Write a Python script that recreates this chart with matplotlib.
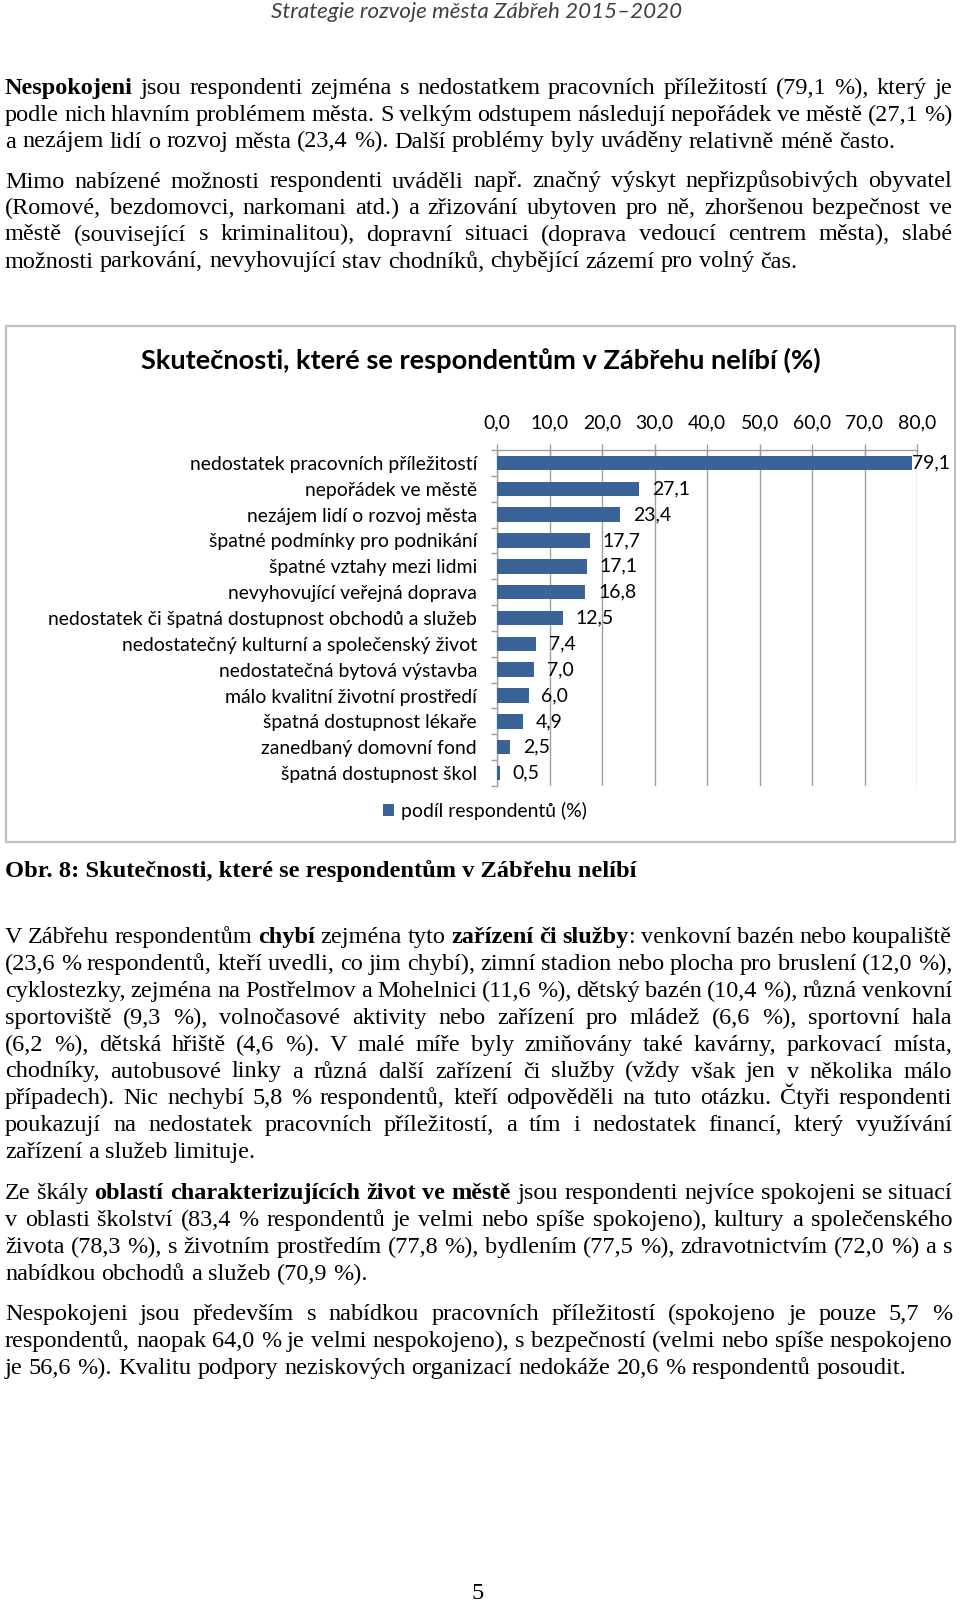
import matplotlib
matplotlib.use("Agg")
import matplotlib.pyplot as plt
from matplotlib.patches import Rectangle, Patch

# ---------------- data ----------------
categories = [
    "nedostatek pracovních příležitostí",
    "nepořádek ve městě",
    "nezájem lidí o rozvoj města",
    "špatné podmínky pro podnikání",
    "špatné vztahy mezi lidmi",
    "nevyhovující veřejná doprava",
    "nedostatek či špatná dostupnost obchodů a služeb",
    "nedostatečný kulturní a společenský život",
    "nedostatečná bytová výstavba",
    "málo kvalitní životní prostředí",
    "špatná dostupnost lékaře",
    "zanedbaný domovní fond",
    "špatná dostupnost škol",
]
values = [79.1, 27.1, 23.4, 17.7, 17.1, 16.8, 12.5, 7.4, 7.0, 6.0, 4.9, 2.5, 0.5]
x_ticks = [0, 10, 20, 30, 40, 50, 60, 70, 80]
x_tick_labels = ["0,0", "10,0", "20,0", "30,0", "40,0", "50,0", "60,0", "70,0", "80,0"]
series_label = "podíl respondentů (%)"
chart_title = "Skutečnosti, které se respondentům v Zábřehu nelíbí (%)"
caption = "Obr. 8: Skutečnosti, které se respondentům v Zábřehu nelíbí"
header = "Strategie rozvoje města Zábřeh 2015–2020"
page_number = "5"

para1 = [
    "**Nespokojeni** jsou respondenti zejména s nedostatkem pracovních příležitostí (79,1 %), který je",
    "podle nich hlavním problémem města. S velkým odstupem následují nepořádek ve městě (27,1 %)",
    "a nezájem lidí o rozvoj města (23,4 %). Další problémy byly uváděny relativně méně často.",
]
para2 = [
    "Mimo nabízené možnosti respondenti uváděli např. značný výskyt nepřizpůsobivých obyvatel",
    "(Romové, bezdomovci, narkomani atd.) a zřizování ubytoven pro ně, zhoršenou bezpečnost ve",
    "městě (související s kriminalitou), dopravní situaci (doprava vedoucí centrem města), slabé",
    "možnosti parkování, nevyhovující stav chodníků, chybějící zázemí pro volný čas.",
]
para3 = [
    "V Zábřehu respondentům **chybí** zejména tyto **zařízení či služby**: venkovní bazén nebo koupaliště",
    "(23,6 % respondentů, kteří uvedli, co jim chybí), zimní stadion nebo plocha pro bruslení (12,0 %),",
    "cyklostezky, zejména na Postřelmov a Mohelnici (11,6 %), dětský bazén (10,4 %), různá venkovní",
    "sportoviště (9,3 %), volnočasové aktivity nebo zařízení pro mládež (6,6 %), sportovní hala",
    "(6,2 %), dětská hřiště (4,6 %). V malé míře byly zmiňovány také kavárny, parkovací místa,",
    "chodníky, autobusové linky a různá další zařízení či služby (vždy však jen v několika málo",
    "případech). Nic nechybí 5,8 % respondentů, kteří odpověděli na tuto otázku. Čtyři respondenti",
    "poukazují na nedostatek pracovních příležitostí, a tím i nedostatek financí, který využívání",
    "zařízení a služeb limituje.",
]
para4 = [
    "Ze škály **oblastí charakterizujících život ve městě** jsou respondenti nejvíce spokojeni se situací",
    "v oblasti školství (83,4 % respondentů je velmi nebo spíše spokojeno), kultury a společenského",
    "života (78,3 %), s životním prostředím (77,8 %), bydlením (77,5 %), zdravotnictvím (72,0 %) a s",
    "nabídkou obchodů a služeb (70,9 %).",
]
para5 = [
    "Nespokojeni jsou především s nabídkou pracovních příležitostí (spokojeno je pouze 5,7 %",
    "respondentů, naopak 64,0 % je velmi nespokojeno), s bezpečností (velmi nebo spíše nespokojeno",
    "je 56,6 %). Kvalitu podpory neziskových organizací nedokáže 20,6 % respondentů posoudit.",
]

# ---------------- layout ----------------
W, H = 960, 1603
DPI = 100
PX = 72.0 / DPI  # points per pixel

SERIF = ["Liberation Serif", "DejaVu Serif"]
SANS = ["Lato", "DejaVu Sans"]
plt.rcParams["font.family"] = SANS

BAR = "#3A6398"
GRID = "#A0A0A0"
BORDER = "#BFBFBF"

fig = plt.figure(figsize=(W / DPI, H / DPI), dpi=DPI)
fig.patch.set_facecolor("white")
page = fig.add_axes([0, 0, 1, 1])
page.set_xlim(0, W)
page.set_ylim(H, 0)
page.axis("off")
renderer = fig.canvas.get_renderer()


def text_width(s, size, family, weight="normal", style="normal"):
    t = page.text(0, 0, s, fontsize=size, family=family, weight=weight, style=style)
    w = t.get_window_extent(renderer).width
    t.remove()
    return w


def fit_size(s, target, family, weight="normal", style="normal"):
    return 20.0 * target / text_width(s, 20, family, weight, style)


def parse(line):
    segs = line.split("**")
    words = [[]]
    for i, seg in enumerate(segs):
        bold = (i % 2 == 1)
        parts = seg.split(" ")
        for j, p in enumerate(parts):
            if j > 0:
                words.append([])
            if p:
                words[-1].append((p, bold))
    return [w for w in words if w]


# body text size fitted to a left-aligned (unjustified) line of the reference
body_size = fit_size(para5[2], 899, SERIF)
space_w = text_width("a a", body_size, SERIF) - text_width("aa", body_size, SERIF)
X0, X1 = 5, 952


def draw_paragraph(lines, baselines):
    for k, (line, yb) in enumerate(zip(lines, baselines)):
        words = parse(line)
        wlist = []
        for word in words:
            ws = [text_width(t, body_size, SERIF, "bold" if b else "normal") for t, b in word]
            wlist.append(ws)
        total = sum(sum(ws) for ws in wlist)
        last = (k == len(lines) - 1)
        if not last and len(words) > 1:
            gap = (X1 - X0 - total) / (len(words) - 1)
        else:
            gap = space_w
        x = X0
        for word, ws in zip(words, wlist):
            for (t, b), w in zip(word, ws):
                page.text(x, yb, t, fontsize=body_size, family=SERIF,
                          weight="bold" if b else "normal", ha="left", va="baseline",
                          color="black")
                x += w
            x += gap


draw_paragraph(para1, [94, 121, 147.5])
draw_paragraph(para2, [187.5, 214, 240.5, 267.5])
draw_paragraph(para3, [943 + 26.9 * i for i in range(9)])
draw_paragraph(para4, [1199 + 26.9 * i for i in range(4)])
draw_paragraph(para5, [1320 + 26.9 * i for i in range(3)])

# header
hsize = fit_size(header, 411, SANS, style="italic")
page.text(477, 18, header, ha="center", va="baseline", fontsize=hsize,
          family=SANS, style="italic", color="#404040")

# caption
csize = fit_size(caption, 632, SERIF, weight="bold")
page.text(5, 877, caption, ha="left", va="baseline", fontsize=csize,
          family=SERIF, weight="bold", color="black")

# page number
page.text(478, 1599, page_number, ha="center", va="baseline", fontsize=body_size,
          family=SERIF, color="black")

# chart border
page.add_patch(Rectangle((6, 326), 949, 516, fill=False, edgecolor=BORDER, lw=1.6))

# chart title
tsize = fit_size(chart_title, 684, SANS, weight="bold")
page.text(481, 369, chart_title, ha="center", va="baseline", fontsize=tsize,
          family=SANS, weight="bold", color="black")

# chart
lab_size = fit_size(categories[6], 429, SANS)
ax = fig.add_axes([497 / W, 1 - 786 / H, 420 / W, 336 / H])
ypos = list(range(len(categories)))
ax.barh(ypos, values, height=0.56, color=BAR, zorder=3)
ax.set_xlim(0, 80)
ax.set_ylim(len(categories) - 0.5, -0.5)
ax.set_axisbelow(True)
ax.grid(axis="x", color=GRID, lw=1)
ax.xaxis.tick_top()
ax.set_xticks(x_ticks)
ax.set_xticklabels(x_tick_labels)
ax.tick_params(axis="x", direction="inout", length=12 * PX, width=1, color=GRID,
               pad=13 * PX, labelsize=lab_size, labelcolor="black")
ax.set_yticks([i - 0.5 for i in range(len(categories) + 1)])
ax.set_yticklabels([])
ax.set_yticks(ypos, minor=True)
ax.set_yticklabels(categories, minor=True)
ax.tick_params(axis="y", which="major", direction="out", length=6 * PX, width=1, color=GRID)
ax.tick_params(axis="y", which="minor", length=0, pad=20 * PX, labelsize=lab_size,
               labelcolor="black")
for s in ["right", "bottom"]:
    ax.spines[s].set_visible(False)
for s in ["top", "left"]:
    ax.spines[s].set_color(GRID)
    ax.spines[s].set_linewidth(1)

# value labels (Excel-like: 13 px right of bar, pulled inside the chart if needed)
for i, v in enumerate(values):
    lab = f"{v:.1f}".replace(".", ",")
    lw_px = text_width(lab, lab_size, SANS)
    x_end = ax.transData.transform((v, i))[0]
    left = min(x_end + 13, 950 - lw_px)
    ax.annotate(lab, (v, i), xytext=((left - x_end) * PX, 0), textcoords="offset points",
                ha="left", va="center", fontsize=lab_size, color="black", zorder=4)

# legend
hl = 11.0 / (lab_size / PX)
fig.legend(handles=[Patch(facecolor=BAR, label=series_label)], loc="center",
           bbox_to_anchor=(485 / W, 1 - 811 / H), frameon=False, fontsize=lab_size,
           handlelength=hl, handleheight=hl, handletextpad=0.35, borderpad=0,
           borderaxespad=0)

fig.savefig("out.png", dpi=DPI, facecolor="white")
